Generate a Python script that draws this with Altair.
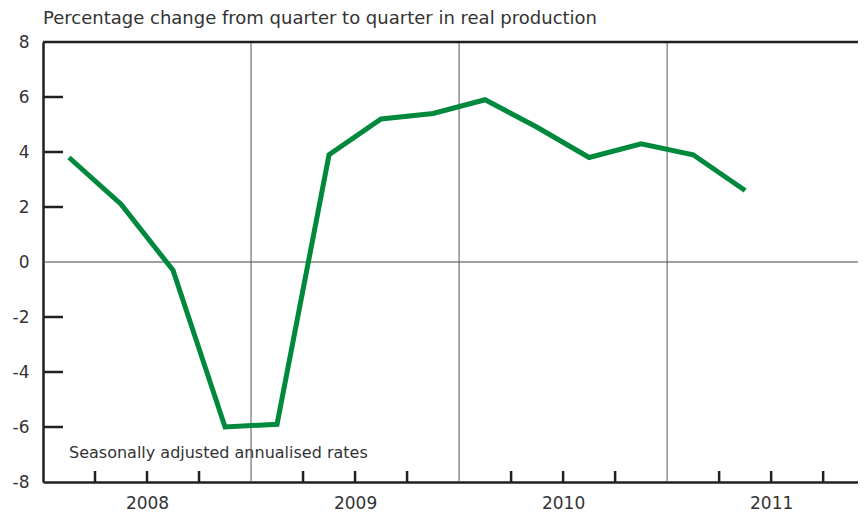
import altair as alt
import pandas as pd

# Quarter midpoints from start of 2008 (in quarter units)
quarters = ["2008Q1", "2008Q2", "2008Q3", "2008Q4",
            "2009Q1", "2009Q2", "2009Q3", "2009Q4",
            "2010Q1", "2010Q2", "2010Q3", "2010Q4",
            "2011Q1", "2011Q2"]
values = [3.8, 2.1, -0.3, -6.0,
          -5.9, 3.9, 5.2, 5.4,
          5.9, 4.9, 3.8, 4.3,
          3.9, 2.6]
years = ["2008", "2009", "2010", "2011"]
y_ticks = [-8, -6, -4, -2, 0, 2, 4, 6, 8]
title_text = "Percentage change from quarter to quarter in real production"
note_text = "Seasonally adjusted annualised rates"

FONT = "DejaVu Sans"
TXT = "#333333"
AX = "#231f20"
GREEN = "#00893d"

X_MAX = 15.67
W = 815
H = 440

df = pd.DataFrame({"q": [i + 0.5 for i in range(len(quarters))],
                   "v": values, "label": quarters})

xscale = alt.Scale(domain=[0, X_MAX], nice=False, zero=False)
yscale = alt.Scale(domain=[-8, 8], nice=False)

year_pos = [4 * i + 2 for i in range(len(years))]
label_expr = "[" + ",".join("'%s'" % y for y in years) + "][floor(datum.value/4)]"

base = alt.Chart(df)

line = base.mark_line(color=GREEN, strokeWidth=5, strokeJoin="miter").encode(
    x=alt.X("q:Q", scale=xscale,
            axis=alt.Axis(values=year_pos, labelExpr=label_expr, ticks=False,
                          grid=False, domain=True, domainColor=AX, domainWidth=2.5,
                          labelFont=FONT, labelFontSize=17, labelColor=TXT,
                          labelPadding=13, title=None)),
    y=alt.Y("v:Q", scale=yscale,
            axis=alt.Axis(values=y_ticks, labelExpr="'' + datum.value",
                          ticks=False, grid=False, domain=True,
                          domainColor=AX, domainWidth=2.5, labelFont=FONT,
                          labelFontSize=17, labelColor=TXT, labelPadding=14,
                          title=None)),
)

# year boundary lines
yb = pd.DataFrame({"x": [4, 8, 12]})
year_lines = alt.Chart(yb).mark_rule(color="#555555", strokeWidth=1).encode(
    x=alt.X("x:Q", scale=xscale))

# zero line
zero = alt.Chart(pd.DataFrame({"y": [0]})).mark_rule(color="#444444", strokeWidth=1).encode(
    y=alt.Y("y:Q", scale=yscale))

# top border
top = alt.Chart(pd.DataFrame({"y": [8]})).mark_rule(color=AX, strokeWidth=2.5).encode(
    y=alt.Y("y:Q", scale=yscale))

# inward y ticks
yt = pd.DataFrame({"y": [t for t in y_ticks if t not in (-8, 0, 8)]})
ytick = alt.Chart(yt).mark_rule(color=AX, strokeWidth=2.5).encode(
    y=alt.Y("y:Q", scale=yscale), x=alt.value(0), x2=alt.value(20))

# inward x ticks (quarters)
xt = pd.DataFrame({"x": [i for i in range(1, 16) if i % 4 != 0]})
xtick = alt.Chart(xt).mark_rule(color=AX, strokeWidth=2.5).encode(
    x=alt.X("x:Q", scale=xscale), y=alt.value(H), y2=alt.value(H - 11))

# title text
title = alt.Chart(pd.DataFrame({"t": [title_text]})).mark_text(
    align="left", baseline="alphabetic", font=FONT, fontSize=18, color=TXT
).encode(x=alt.value(0), y=alt.value(-18), text="t:N")

note = alt.Chart(pd.DataFrame({"t": [note_text], "x": [0.5], "y": [-7.13]})).mark_text(
    align="left", baseline="alphabetic", font=FONT, fontSize=16, color=TXT
).encode(x=alt.X("x:Q", scale=xscale), y=alt.Y("y:Q", scale=yscale), text="t:N")

chart = alt.layer(year_lines, zero, top, ytick, xtick, line, title, note).properties(
    width=W, height=H,
    autosize=alt.AutoSizeParams(type="none"),
    padding={"left": 35, "top": 34, "right": 0, "bottom": 30},
).configure_view(stroke=None).configure(background="white")

chart.save("out.html", embed_options={"renderer": "svg", "actions": False})
